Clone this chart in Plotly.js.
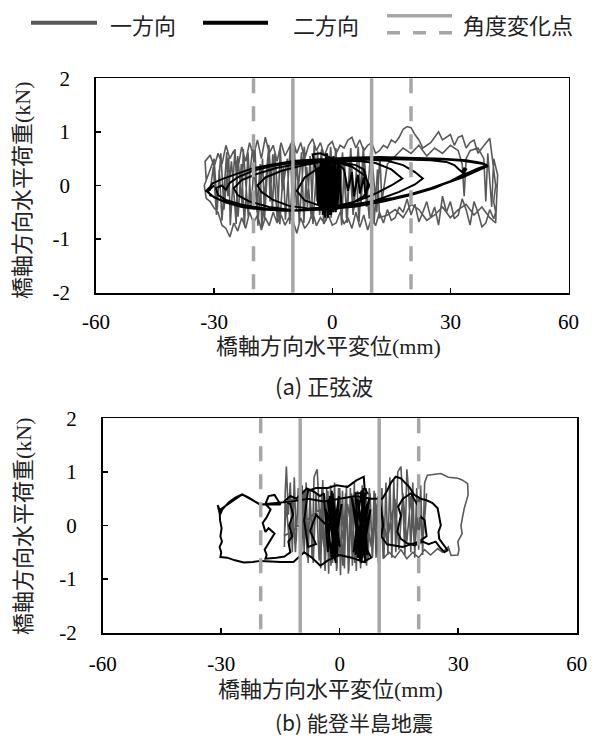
<!DOCTYPE html>
<html>
<head>
<meta charset="utf-8">
<script src="https://cdn.plot.ly/plotly-3.0.1.min.js"></script>
<style>html,body{margin:0;padding:0;background:#fff;}#chart{width:596px;height:738px;}</style>
</head>
<body>
<div id="chart"></div>
<script>
// ---------- data ----------
const seriesNames = ["一方向", "二方向", "角度変化点"];
const xTicks = [-60, -30, 0, 30, 60];
const yTicks = [-2, -1, 0, 1, 2];
const angleSolid = [-10, 10];
const angleDashed = [-20, 20];
const captions = ["(a) 正弦波", "(b) 能登半島地震"];
const xTitle = "橋軸方向水平変位(mm)";
const yTitle = "橋軸方向水平荷重(kN)";

// (a) sine wave, one-direction (x mm, y kN)
const sineOne = [
[-32,0.1],[-32.3,0.45],[-31,0.57],[-30,0.35],[-29,0.6],[-28,0.4],[-27,0.75],[-26,0.5],[-25,0.65],[-24,0.3],[-23,0.72],[-22,0.45],[-21,0.8],[-20,0.55],[-19,0.85],[-18,0.5],[-17,0.9],[-16,0.6],[-15,0.75],[-14,0.45],[-13,0.8],[-12,0.55],[-11,0.7],[-10,0.85],[-9,0.6],[-8,0.8],[-7,0.5],[-6,0.75],[-5,0.87],[-4,0.65],[-3,0.8],[-2,0.55],[-1,0.75],[0,0.82],[1,0.6],[2,0.75],[3,0.7],[4,0.85],[5,0.9],[6,0.7],[7,0.85],[8,0.65],[9,0.75],[10,0.8],[11,0.6],[12,0.65],[13,0.75],[14,0.7],[15,0.85],[16,0.8],[17,0.9],[18,1.05],[19,1.1],[20,1.08],[21,0.95],[22,0.85],[23,0.7],[24,0.75],[25,0.8],[26,0.9],[27,1.0],[28,0.85],[29,0.9],[30,0.95],[31,0.75],[32,0.9],[33,0.93],[34,0.7],[35,0.8],[36,0.85],[37,0.6],[38,0.7],[39,0.8],[40,0.88],[40.5,0.6],[41,0.3],[41.5,0.0],[41,-0.3],[41.5,-0.5],[41,-0.62],
[40,-0.45],[39,-0.7],[38,-0.77],[37,-0.5],[36,-0.3],[35,-0.74],[34,-0.45],[33,-0.25],[32,-0.55],[31,-0.62],[30,-0.3],[29,-0.5],[28,-0.2],[27,-0.74],[26,-0.4],[25,-0.6],[24,-0.3],[23,-0.5],[22,-0.68],[21,-0.35],[20,-0.55],[19,-0.25],[18,-0.5],[17,-0.4],[16,-0.6],[15,-0.65],[14,-0.45],[13,-0.7],[12,-0.5],[11,-0.75],[10,-0.6],[9,-0.83],[8,-0.55],[7,-0.78],[6,-0.5],[5,-0.8],[4,-0.6],[3,-0.72],[2,-0.5],[1,-0.7],[0,-0.74],[-1,-0.55],[-2,-0.7],[-3,-0.6],[-4,-0.75],[-5,-0.5],[-6,-0.7],[-7,-0.8],[-8,-0.6],[-9,-0.89],[-10,-0.65],[-11,-0.6],[-12,-0.74],[-13,-0.55],[-14,-0.7],[-15,-0.5],[-16,-0.75],[-17,-0.6],[-18,-0.83],[-19,-0.55],[-20,-0.7],[-21,-0.5],[-22,-0.8],[-23,-0.6],[-24,-0.85],[-25,-0.7],[-26,-0.96],[-27,-0.8],[-28,-0.74],[-29,-0.5],[-30,-0.42],[-31,-0.3],[-32,-0.24],[-32.5,0.0],
[-30,0.5],[-29.2,-0.45],[-28.7,0.3],[-28,-0.65],[-26.8,0.62],[-26.5,-0.2],[-25.6,0.45],[-24.4,-0.72],[-24,0.55],[-22.9,-0.35],[-22.6,0.68],[-21.3,-0.6],[-20.9,0.2],[-20.2,0.74],[-19.1,-0.5],[-18.3,0.4],[-17.9,-0.78],[-16.2,0.66],[-15.8,-0.3],[-15.1,0.58],[-13.9,-0.68],[-13.2,0.72],[-12.7,-0.1],[-11.4,0.5],[-10.8,-0.72],[-9.6,0.7],[-9.1,-0.45],[-7.8,0.62],[-7.2,-0.7],[-6.5,0.35],[-5.3,-0.62],[-4.6,0.75],[-3.9,-0.3],[-2.7,0.68],[-2.2,-0.72],[-1.1,0.5],[-0.3,-0.6],[0.9,0.7],[1.8,-0.4],[2.6,0.62],[3.8,-0.7],[4.4,0.45],[5.3,-0.55],[6.6,0.72],[7.3,-0.35],[8.1,0.55],[9.4,-0.62],[10.2,0.4],[11.3,-0.5],[12.1,0.55],[12.6,-0.3],
[14,0.4],[16,0.55],[18,0.7],[20,0.6],[22,0.75],[24,0.55],[26,0.7],[28,0.6],[30,0.75],[32,0.65],[33,0.4],[33.5,-0.2],[34,0.5],[35,0.65],[37,0.7],[38.5,0.5],[39,-0.3],[39.5,0.6],[40.5,-0.4],[41,0.5],[42,0.2],[41.5,-0.7],[40,-0.6],[38,-0.4],[36,-0.55],[34,-0.35],[32,-0.45],[30,-0.6],[28,-0.4],[26,-0.55],[24,-0.65],[22,-0.45],[20,-0.35],[18,-0.6],[16,-0.45],[14,-0.55],
[12,-0.6],[11.5,0.3],[10.6,-0.72],[9.8,0.66],[8.7,-0.4],[7.9,0.72],[6.8,-0.68],[6.1,0.2],[5.5,-0.45],[4.7,0.7],[3.6,-0.6],[3.1,0.52],[2.4,-0.74],[1.3,0.4],[0.6,-0.5],[-0.4,0.72],[-1.6,-0.66],[-2.1,0.3],[-3.2,-0.55],[-3.7,0.64],[-4.9,-0.72],[-5.6,0.55],[-6.3,-0.4],[-7.1,0.72],[-8.4,-0.7],[-8.9,0.45],[-10.1,-0.58],[-10.6,0.78],[-11.9,-0.64],[-12.4,0.35],[-13.3,-0.72],[-14.6,0.6],[-15.2,-0.45],[-16.1,0.76],[-17.2,-0.62],[-17.7,0.5],[-18.9,-0.75],[-19.6,0.66],[-20.6,-0.4],[-21.4,0.62],[-22.3,-0.74],[-23.1,0.4],[-23.9,-0.58],[-24.7,0.68],[-25.9,-0.74],[-26.3,0.52],[-27.5,-0.45],[-28.3,0.6],[-29.4,-0.55],[-30.2,0.35],[-31,-0.1]
];

// (a) sine wave, two-direction
const sineTwo = [
[0,0],[-0.5,0.5],[-0.2,-0.5],[-1,0.55],[-0.7,-0.55],[-1.5,0.6],[-1.2,-0.5],[-2,0.5],[-1.8,-0.6],[-2.5,0.45],[-2.2,-0.5],[-3,0.4],[-2.7,-0.45],[-3.5,0.35],[-3.2,-0.4],[-4,0.3],[-3.6,-0.35],[-2.9,0.5],[-2.4,-0.55],[-1.6,0.55],[-1.1,-0.6],[-0.4,0.5],[0.2,-0.5],[0.8,0.45],[1.3,-0.45],[1.9,0.4],[2.3,-0.35],[1.5,0.45],[0.9,-0.5],[0.3,0.55],[-0.3,-0.55],[-1.3,0.6],[-2,-0.5],[-5,0.58],[-3,0.6],[0,0.5],
[3,0.3],[4,-0.1],[5,0.25],[5.5,-0.2],[6.5,0.2],[7,-0.15],[8,0.15],[8.5,-0.25],[9,0.05],[8,0.3],[6,0.38],[3,0.42],
[0,0.42],[-4,0.3],[-7,0.15],[-9,-0.1],[-7,-0.28],[-3,-0.38],[1,-0.4],[5,-0.33],[8,-0.2],[9.5,0.0],[8,0.2],[5,0.35],[1,0.44],
[6,0.46],[11,0.42],[15,0.3],[17.8,0.13],[15,0.0],[11,-0.15],[6,-0.3],[0,-0.4],[-6,-0.43],[-11,-0.38],[-15,-0.27],[-18,-0.12],[-19,0.0],[-17,0.15],[-13,0.27],[-8,0.37],[-3,0.44],[3,0.48],[9,0.48],
[14,0.46],[18,0.38],[21,0.25],[23,0.13],[21,0.02],[17,-0.12],[11,-0.28],[4,-0.39],[-3,-0.45],[-10,-0.46],[-16,-0.4],[-21,-0.3],[-24,-0.18],[-25,-0.05],[-23,0.1],[-19,0.22],[-14,0.33],[-8,0.41],[-2,0.46],[5,0.5],[12,0.5],[19,0.49],[25,0.47],
[29,0.44],[31,0.38],[32.2,0.3],[33,0.25],[33.5,0.32],[34,0.3],[33,0.2],[30,0.08],[26,-0.05],[20,-0.18],[13,-0.3],[6,-0.39],[-2,-0.45],[-10,-0.47],[-17,-0.43],[-23,-0.36],[-27,-0.27],[-29,-0.18],[-29.5,-0.05],[-28,0.0],[-27,-0.08],[-26,0.05],[-24,0.15],[-20,0.28],[-15,0.37],[-9,0.44],[-3,0.48],[5,0.51],[13,0.52],[21,0.51],[28,0.49],[33,0.46],
[36,0.43],[38.5,0.4],[39.4,0.38],[37,0.32],[34,0.22],[30,0.08],[25,-0.05],[20,-0.16],[14,-0.26],[8,-0.34],[2,-0.4],[-5,-0.45],[-12,-0.47],[-18,-0.45],[-23,-0.4],[-27,-0.32],[-30,-0.22],[-32,-0.1],[-31,-0.02],[-30.4,0.04],[-28,0.12],[-25.4,0.19],[-20.3,0.32],[-15.2,0.39],[-9.3,0.46],[-3,0.49],[4,0.52],[12,0.53],[20,0.52],[28,0.5],[34,0.47],[38,0.42],[39.5,0.36],[37,0.28],[33,0.15],[28,0.02],[22,-0.12],[15,-0.24],[8,-0.33],[0,-0.42],[-8,-0.46],[-16,-0.45],[-22,-0.4],[-26,-0.33],[-29,-0.25],[-31,-0.18],[-31.5,-0.1],[-30,0.0]
];

// (b) Noto earthquake, one-direction
const notoOne = [
[-14,-0.4],[-13.8,0.6],[-13.5,1.1],[-13,0.2],[-12.5,0.8],[-12,-0.5],[-11.5,0.9],[-11,-0.3],[-10.5,0.7],[-10,-0.6],[-9.5,0.75],[-9,-0.5],[-8.5,0.8],[-8,-0.7],[-7.5,0.65],[-7,-0.6],[-6.5,0.9],[-5.7,1.05],[-5.2,0.3],[-4.8,-0.8],[-4.3,0.85],[-3.8,-0.75],[-3.3,0.7],[-2.8,-0.9],[-2.3,0.75],[-1.8,-0.7],[-1.3,0.8],[-0.8,-0.85],[-0.3,0.7],[0.2,-0.93],[0.7,0.65],[1.2,-0.8],[1.7,0.75],[2.2,-0.9],[2.7,0.7],[3.2,-0.75],[3.7,0.8],[4.2,-0.85],[4.7,0.6],[5.2,-0.7],[5.7,0.75],[6.2,-0.6],[6.7,0.7],[7.2,-0.65],[7.7,0.6],[8.2,-0.55],[8.7,0.65],[9.2,-0.6],[9.7,0.55],[10.2,-0.5],[10.7,0.7],[11.2,-0.6],[11.7,0.8],[12.2,-0.55],[12.7,0.9],[13.2,-0.6],[13.7,0.85],[14.2,-0.5],[14.7,1.0],[15.5,1.1],[16,0.4],[16.5,-0.55],[17,1.05],[17.5,0.6],[18,-0.5],[18.5,0.8],[19,-0.6],[19.5,0.7],[20,-0.45],[20.5,0.75],[21,-0.55],[21.5,0.8],[22.2,0.94],[24,0.96],[25.6,0.97],[27.5,0.9],[29.9,0.88],[31,0.85],[32.4,0.78],[32.5,0.57],[31.5,0.31],[30.7,0],[31,-0.15],[29.9,-0.3],[30.2,-0.45],[29.9,-0.55],[28.2,-0.56],[27.5,-0.4],[26,-0.5],[24.8,-0.43],[23,-0.55],[21.5,-0.45],[20,-0.6],[18.5,-0.5],[17,-0.62],[15.5,-0.45],[14,-0.6],[12.5,-0.5],[11,-0.62],
[10.5,0.5],[9.8,-0.7],[9,0.6],[8.3,-0.6],[7.5,0.7],[6.8,-0.75],[6,0.6],[5.3,-0.8],[4.5,0.65],[3.8,-0.7],[3,0.6],[2.3,-0.85],[1.5,0.6],[0.8,-0.75],[0,0.7],[-0.7,-0.8],[-1.5,0.6],[-2.2,-0.75],[-3,0.65],[-3.7,-0.85],[-4.5,0.7],[-5.2,-0.65],[-6,0.6],[-6.7,-0.7],[-7.5,0.55],[-8.2,-0.6],[-9,0.65],[-9.7,-0.55],[-10.5,0.6],[-11.2,-0.5],[-12,0.5],[-12.7,-0.4],[-13.5,0.4],[-14,-0.2],
[-5,0.3],[-4,-0.4],[-2,0.5],[0,-0.5],[2,0.4],[4,-0.6],[6,0.5],[8,-0.4],[10,0.6],[12,-0.3],[14,0.5],[15,-0.45],[16,0.6],[17,-0.3],[18,0.55],[19,-0.45],[20,0.5],[21,-0.35],[22,0.6]
];

// (b) Noto earthquake, two-direction
const notoTwo = [
[-30.4,0.29],[-30.9,0.38],[-30.3,0.2],[-29.7,0.3],[-28,0.44],[-26.4,0.52],[-24.7,0.58],[-23,0.52],[-21.5,0.45],[-20.1,0.39],[-17.5,0.39],[-15,0.39],
[-16.5,0.57],[-18,0.55],[-18.8,0.4],[-17.5,0.3],[-18.5,0.15],[-19.5,0.05],[-18.8,-0.12],[-18,-0.05],[-16.5,-0.15],[-18.4,-0.37],[-19,-0.45],[-18.5,-0.55],[-18.8,-0.62],[-16,-0.6],[-14,-0.58],[-12.5,-0.5],[-13,-0.3],[-12,-0.2],[-12.8,0.0],[-11.8,0.2],[-12.5,0.4],[-14,0.45],[-12.5,0.55],[-11,0.5],[-9.5,0.6],[-8.3,0.69],[-6.5,0.63],[-5,0.55],
[-4,0.6],[-3,-0.5],[-2,0.65],[-1.5,-0.6],[-2.5,0.55],[-1,-0.7],[-3,0.45],[-0.5,-0.55],[-1.8,0.6],[0,-0.4],[-2.8,0.5],[-1.2,-0.65],[-0.2,0.55],[-2.2,-0.5],[-3.5,0.3],[-1,-0.3],[0.5,0.4],[-2,-0.62],[-3.2,0.1],[-1.5,0.3],[-0.5,-0.2],
[-6,0.2],[-7.5,-0.1],[-6,-0.35],[-8,-0.4],[-9,0.1],[-8,0.65],[-6,0.7],[-3,0.7],[-0.8,0.75],[2,0.72],[4.2,0.84],[6.1,0.91],[6.3,0.7],[7,0.6],
[4,0.6],[5,-0.6],[6,0.7],[7,-0.55],[4.5,0.5],[6.5,-0.7],[5.5,0.65],[3.5,-0.5],[7.5,0.5],[5,-0.65],[6.5,0.6],[4,-0.55],[7,0.4],[5.5,-0.7],[3,0.55],[6,-0.5],[7.8,0.3],[4.5,-0.6],[6,0.2],[5,-0.2],
[8,-0.6],[6,-0.68],[3,-0.6],[0,-0.55],[-3,-0.65],[-4.9,-0.75],[-7,-0.6],[-9,-0.5],[-11.7,-0.68],[-15,-0.68],[-17.5,-0.67],[-20,-0.66],[-22,-0.68],[-24.3,-0.69],[-26.5,-0.65],[-28.5,-0.6],[-30.2,-0.59],[-30,-0.5],[-30.4,-0.4],[-29.8,-0.3],[-30.2,-0.2],[-29.9,-0.05],[-30.3,0.1],[-30.4,0.29],
[-24.7,0.58],[-20.1,0.39],[-12,0.45],[-8,0.5],[-4,0.45],[0,0.5],[4,0.55],[8,0.5],
[10.8,0.5],[12,0.65],[13,0.8],[14.2,0.91],[15.5,0.88],[16.5,0.8],[17.6,0.72],[18.9,0.57],[20.5,0.5],[22,0.47],[23.5,0.42],[24.8,0.32],[25.3,0.15],[25.6,0.0],[25,-0.12],[25.2,-0.25],[26.4,-0.37],[27.3,-0.46],[26.5,-0.5],[25.5,-0.42],[24.3,-0.3],[22.5,-0.35],[21,-0.3],[19,-0.37],[17,-0.33],[15.5,-0.25],[14.6,-0.12],[15,0.05],[15.5,0.19],[14.8,0.35],[16,0.5],[18,0.6],[19.8,0.37],[20,0.2],[21.5,0.1],[22,-0.2],[20,-0.3],[16,-0.4],[12,-0.35],[10.5,-0.2],[11,0.0],[10.5,0.3],[10,0.5]
];

// ---------- drawing ----------
const W = 596, H = 738;
const px = v => v / W, py = v => 1 - v / H;
const GRAY = "#595959", BLACK = "#000000", ANG = "#a6a6a6";
const serif = "'Liberation Serif', 'Times New Roman', 'Noto Sans CJK JP', serif";
const cjk = "'Noto Sans CJK JP', sans-serif";

function trace(data, color, width, xa, ya) {
  return {x: data.map(p => p[0]), y: data.map(p => p[1]), type: "scatter", mode: "lines",
    line: {color: color, width: width}, xaxis: xa, yaxis: ya, showlegend: false, hoverinfo: "skip"};
}
const traces = [
  trace(sineOne, GRAY, 1.6, "x", "y"),
  trace(sineTwo, BLACK, 2, "x", "y"),
  trace(notoOne, GRAY, 1.6, "x2", "y2"),
  trace(notoTwo, BLACK, 2, "x2", "y2")
];

function xAxis(domain, anchor, standoff) {
  return {domain: domain, anchor: anchor, range: [xTicks[0], xTicks[xTicks.length-1]], tickvals: xTicks,
    ticktext: xTicks.map(String),
    ticks: "inside", ticklen: 5, tickwidth: 1.5, tickcolor: "#000", showline: true, mirror: true,
    linecolor: "#000", linewidth: 1.8, showgrid: false, zeroline: false, ticklabelstandoff: standoff,
    tickfont: {family: serif, size: 21, color: "#000"}};
}
function yAxis(domain, anchor) {
  return {domain: domain, anchor: anchor, range: [yTicks[0], yTicks[yTicks.length-1]], tickvals: yTicks,
    ticktext: yTicks.map(String),
    ticks: "inside", ticklen: 5, tickwidth: 1.5, tickcolor: "#000", showline: true, mirror: true,
    linecolor: "#000", linewidth: 1.8, showgrid: false, zeroline: false, ticklabelstandoff: 20,
    tickfont: {family: serif, size: 21, color: "#000"}};
}

const shapes = [];
[["x", "y"], ["x2", "y2"]].forEach(([xa, ya]) => {
  angleSolid.forEach(v => shapes.push({type: "line", xref: xa, yref: ya + " domain", x0: v, x1: v, y0: 1, y1: 0,
    line: {color: ANG, width: 3.5}, layer: "above"}));
  angleDashed.forEach(v => shapes.push({type: "line", xref: xa, yref: ya + " domain", x0: v, x1: v, y0: 1, y1: 0,
    line: {color: ANG, width: 3.5, dash: "15px,13px"}, layer: "above"}));
});
// legend symbols
shapes.push({type: "line", xref: "paper", yref: "paper", x0: px(31), x1: px(97), y0: py(22.7), y1: py(22.7), line: {color: GRAY, width: 4}});
shapes.push({type: "line", xref: "paper", yref: "paper", x0: px(203), x1: px(268), y0: py(22.7), y1: py(22.7), line: {color: BLACK, width: 4}});
shapes.push({type: "line", xref: "paper", yref: "paper", x0: px(387), x1: px(452), y0: py(15.7), y1: py(15.7), line: {color: ANG, width: 3.5}});
shapes.push({type: "line", xref: "paper", yref: "paper", x0: px(387), x1: px(452), y0: py(32.7), y1: py(32.7), line: {color: ANG, width: 3.5, dash: "13px,13px"}});

function ann(text, x, y, size, family, opts) {
  return Object.assign({text: text, xref: "paper", yref: "paper", x: px(x), y: py(y), showarrow: false,
    xanchor: "center", yanchor: "middle", font: {family: family, size: size, color: "#222"}}, opts || {});
}
const annotations = [
  ann(seriesNames[0], 108, 24, 22, cjk, {xanchor: "left"}),
  ann(seriesNames[1], 291, 24, 22, cjk, {xanchor: "left"}),
  ann(seriesNames[2], 461, 24, 22, cjk, {xanchor: "left"}),
  ann(xTitle, 328, 346, 22, serif),
  ann(xTitle, 330, 689, 22, serif),
  ann(yTitle, 23, 190, 22, serif, {textangle: -90}),
  ann(yTitle, 23, 526, 22, serif, {textangle: -90}),
  ann(captions[0], 324, 385, 22, cjk),
  ann(captions[1], 354, 722, 21, cjk)
];

const layout = {
  width: W, height: H, margin: {l: 0, r: 0, t: 0, b: 0},
  paper_bgcolor: "#fff", plot_bgcolor: "#fff", showlegend: false,
  xaxis: xAxis([px(96), px(568.5)], "y", 9),
  yaxis: yAxis([py(292.7), py(78.3)], "x"),
  xaxis2: xAxis([px(102.7), px(576.7)], "y2", 11),
  yaxis2: yAxis([py(632.7), py(418.3)], "x2"),
  shapes: shapes, annotations: annotations
};
Plotly.newPlot("chart", traces, layout, {staticPlot: true, displayModeBar: false});
</script>
</body>
</html>
